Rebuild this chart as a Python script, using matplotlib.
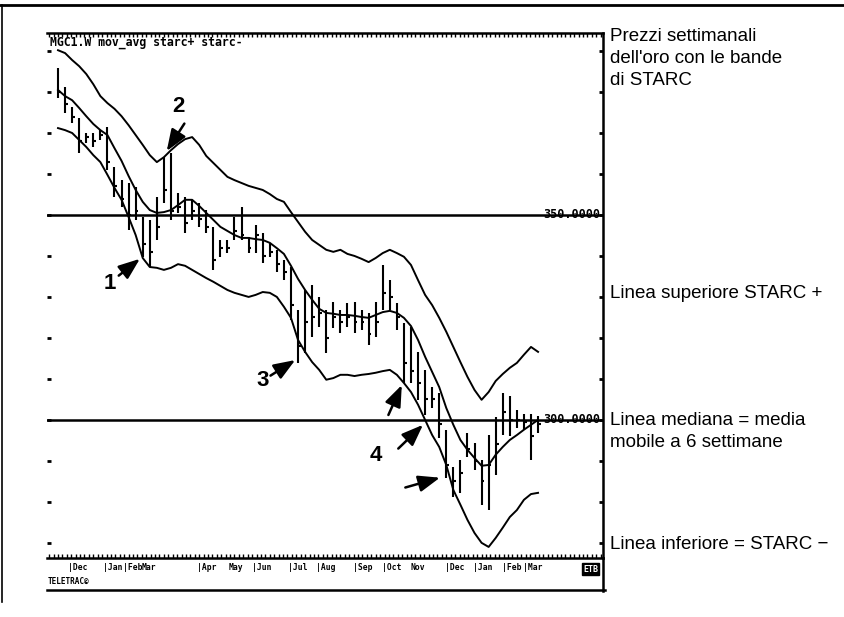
#!/usr/bin/env python3
"""
Weekly gold prices with STARC bands (upper band, 6-week moving average, lower band).
"""

import matplotlib.pyplot as plt
import numpy as np
from matplotlib.lines import Line2D
from matplotlib.ticker import MultipleLocator
from matplotlib.transforms import blended_transform_factory

# weekly bars
high = [385.9, 381.2, 376.3, 373.7, 370.0, 370.0, 370.7, 371.5, 361.7, 358.5,
        357.8, 356.8, 349.5, 348.8, 354.4, 364.1, 365.1, 355.4, 354.4, 353.7,
        352.9, 351.2, 347.1, 343.9, 343.9, 349.5, 352.0, 344.6, 347.6, 345.6,
        343.2, 341.5, 339.0, 337.3, 326.8, 331.7, 332.9, 330.0, 326.8, 328.8,
        326.8, 328.5, 328.8, 326.8, 326.1, 328.8, 337.8, 334.1, 328.5, 323.7,
        322.7, 316.6, 312.2, 308.0, 306.6, 297.6, 288.5, 290.2, 296.8, 294.4,
        290.2, 296.3, 300.7, 306.6, 305.9, 302.4, 301.5, 301.5, 301.0]
low = [378.5, 374.9, 372.4, 365.1, 367.6, 366.6, 368.3, 361.0, 354.4, 352.0,
       346.3, 348.8, 339.8, 337.3, 343.9, 352.9, 348.8, 350.5, 345.6, 348.8,
       347.1, 345.6, 336.6, 339.8, 340.7, 343.9, 343.9, 340.7, 340.7, 338.3,
       339.8, 336.1, 334.1, 324.4, 313.9, 316.3, 320.2, 322.7, 316.3, 322.4,
       321.2, 322.7, 321.2, 322.0, 318.3, 320.2, 326.8, 326.8, 322.0, 309.0,
       309.0, 304.9, 301.2, 302.9, 295.6, 285.9, 281.2, 282.2, 291.0, 287.8,
       279.3, 278.0, 286.6, 296.3, 296.1, 298.0, 297.6, 290.2, 296.8]
close = [380.0, 377.0, 374.0, 368.0, 369.0, 368.0, 369.5, 363.0, 357.0, 354.0,
         350.0, 351.0, 343.0, 341.0, 347.0, 356.0, 351.0, 352.0, 348.0, 351.0,
         349.0, 347.0, 339.0, 342.0, 342.0, 346.0, 345.0, 342.0, 345.0, 340.0,
         341.0, 338.0, 336.0, 328.0, 318.0, 324.0, 325.0, 326.0, 320.0, 325.0,
         324.0, 325.0, 324.0, 324.0, 321.0, 324.0, 331.0, 330.0, 325.0, 314.0,
         312.0, 309.0, 305.0, 305.0, 299.0, 289.0, 285.0, 287.0, 293.0, 290.0,
         285.0, 289.0, 294.0, 302.0, 300.0, 300.0, 299.5, 296.0, 299.0]

# STARC+ / 6-week moving average / STARC-
upper = [390.2, 389.5, 387.8, 386.3, 384.4, 381.9, 379.0, 377.3, 375.9, 374.1,
         371.9, 369.5, 367.1, 364.6, 362.9, 364.1, 365.8, 367.3, 368.5, 369.0,
         367.1, 364.4, 362.7, 361.0, 359.3, 358.5, 357.8, 357.1, 356.6, 356.1,
         355.1, 353.9, 353.2, 350.7, 348.3, 345.9, 343.9, 342.7, 341.5, 341.0,
         341.5, 340.5, 340.0, 339.3, 338.5, 339.5, 340.7, 341.5, 340.7, 339.8,
         337.8, 334.1, 330.5, 328.0, 324.9, 321.5, 317.8, 314.1, 310.5, 307.3,
         304.9, 306.8, 309.5, 311.2, 312.7, 313.9, 315.9, 317.8, 316.6]
middle = [380.5, 379.0, 378.0, 376.1, 374.1, 372.2, 370.7, 369.5, 366.3, 363.2,
          359.5, 356.1, 353.2, 351.2, 350.5, 350.7, 351.2, 352.4, 353.7, 353.7,
          352.2, 350.5, 348.8, 347.1, 346.1, 345.1, 344.4, 344.4, 344.1, 343.9,
          343.2, 341.9, 340.5, 337.6, 334.4, 331.7, 329.3, 327.1, 326.1, 325.9,
          325.6, 325.6, 325.4, 325.1, 324.9, 325.6, 326.3, 326.6, 326.1, 324.9,
          322.9, 319.5, 315.4, 311.7, 308.0, 302.9, 298.8, 295.1, 292.7, 290.7,
          288.8, 289.0, 291.5, 293.4, 295.1, 296.3, 297.6, 298.8, 300.0]
lower = [371.2, 370.7, 370.0, 368.3, 366.6, 364.6, 362.9, 359.8, 356.6, 353.7,
         349.5, 345.1, 339.5, 337.3, 337.1, 336.6, 337.1, 338.0, 337.6, 336.6,
         335.6, 334.6, 333.7, 332.7, 331.7, 331.0, 330.5, 330.0, 330.5, 331.2,
         331.0, 330.0, 327.6, 324.9, 319.5, 316.6, 314.1, 312.2, 309.8, 310.2,
         311.0, 311.0, 310.7, 311.0, 311.2, 311.5, 311.9, 312.2, 311.0, 309.0,
         306.8, 303.7, 300.0, 296.3, 293.4, 289.0, 282.9, 279.3, 275.6, 272.4,
         270.0, 269.0, 271.2, 273.7, 276.3, 278.0, 280.5, 281.9, 282.2]

month_labels = ["|Dec", "|Jan", "|Feb", "Mar", "|Apr", "May", "|Jun", "|Jul",
                "|Aug", "|Sep", "|Oct", "Nov", "|Dec", "|Jan", "|Feb", "|Mar"]
month_pos = [1.4, 6.4, 9.2, 11.9, 19.7, 24.1, 27.5, 32.6,
             36.5, 41.8, 45.9, 49.9, 54.8, 58.8, 62.9, 65.9]

levels = [350, 300]

# (label, label position, arrow tail, arrow tip) in weeks / price
callouts = [
    ("1", (7.3, 333.3), (8.6, 335.2), (11.6, 339.3)),
    ("2", (17.0, 376.5), (17.9, 372.3), (15.4, 365.6)),
    ("3", (29.0, 309.6), (30.1, 310.8), (33.6, 314.6)),
    ("", None, (46.8, 301.2), (48.7, 308.5)),
    ("", None, (48.2, 293.0), (51.7, 298.8)),
    ("4", (45.0, 291.3), None, None),
    ("", None, (49.2, 283.5), (54.1, 285.9)),
]

notes = [
    ("Prezzi settimanali\ndell'oro con le bande\ndi STARC", 0.955, "top"),
    ("Linea superiore STARC +", 0.525, "center"),
    ("Linea mediana = media\nmobile a 6 settimane", 0.300, "center"),
    ("Linea inferiore = STARC \u2212", 0.118, "center"),
]

W, H = 844, 617
fig = plt.figure(figsize=(W / 100, H / 100), dpi=100)
ax = fig.add_axes([47 / W, 1 - 558 / H, 556 / W, 525 / H])

weeks = np.arange(len(high))
ax.vlines(weeks, low, high, color="black", lw=1.5)
ax.hlines(close, weeks, weeks + 0.4, color="black", lw=1.5)

for band in (upper, middle, lower):
    ax.plot(weeks, band, color="black", lw=1.4)

mono = "DejaVu Sans Mono"
for lvl in levels:
    ax.axhline(lvl, color="black", lw=1.8)
    ax.text(0.995, lvl, f"{lvl:.4f}", transform=ax.get_yaxis_transform(),
            ha="right", va="center", fontsize=8.5, family=mono,
            fontweight="bold")

for label, text_xy, tail, tip in callouts:
    if tip is not None:
        ax.annotate("", xy=tip, xytext=tail,
                    arrowprops=dict(arrowstyle="-|>,head_length=1.3,head_width=0.5",
                                    color="black", lw=1.8, shrinkA=0, shrinkB=0))
    if label:
        ax.text(*text_xy, label, fontsize=16, fontweight="bold",
                family="Liberation Sans", ha="center", va="center")

ax.set_xlim(-1.56, 77.2)
ax.set_ylim(266.3, 394.4)

ax.spines["left"].set_visible(False)
for side in ("top", "bottom", "right"):
    ax.spines[side].set_linewidth(1.8)

ax.yaxis.set_major_locator(MultipleLocator(10))
ax.tick_params(axis="y", which="both", left=True, right=True, direction="in",
               labelleft=False, labelright=False, length=3, width=2)
ax.xaxis.set_major_locator(MultipleLocator(0.625))
ax.tick_params(axis="x", which="both", top=True, bottom=True, direction="in",
               labelbottom=False, length=3, width=1)

ax.text(0.005, 0.995, "MGC1.W mov_avg starc+ starc-", transform=ax.transAxes,
        ha="left", va="top", fontsize=8.3, family=mono, fontweight="bold")

trans = blended_transform_factory(ax.transData, fig.transFigure)
for pos, lab in zip(month_pos, month_labels):
    fig.text(pos, 1 - 568 / H, lab, transform=trans, ha="left", va="center",
             fontsize=5.8, family=mono, fontweight="bold")

fig.text(48 / W, 1 - 581 / H, "TELETRAC\u00a9", ha="left", va="center",
         fontsize=5.5, family=mono, fontweight="bold")
fig.text(598 / W, 1 - 569 / H, "ETB", ha="right", va="center", fontsize=6,
         family=mono, fontweight="bold", color="white",
         bbox=dict(boxstyle="square,pad=0.15", fc="black", ec="black"))

# frame around the screen capture
frame = [
    ((0, 1), (1 - 5 / H, 1 - 5 / H), 2.0),
    ((2 / W, 2 / W), (1 - 5 / H, 1 - 602 / H), 1.2),
    ((47 / W, 605 / W), (1 - 590 / H, 1 - 590 / H), 1.8),
    ((603 / W, 603 / W), (1 - 558 / H, 1 - 591 / H), 1.8),
]
for xs, ys, lw in frame:
    fig.add_artist(Line2D(xs, ys, color="black", lw=lw))

for txt, y, va in notes:
    fig.text(610 / W, y, txt, ha="left", va=va, fontsize=13.5,
             family="Liberation Sans", linespacing=1.38)

fig.savefig("out.png", dpi=100)
